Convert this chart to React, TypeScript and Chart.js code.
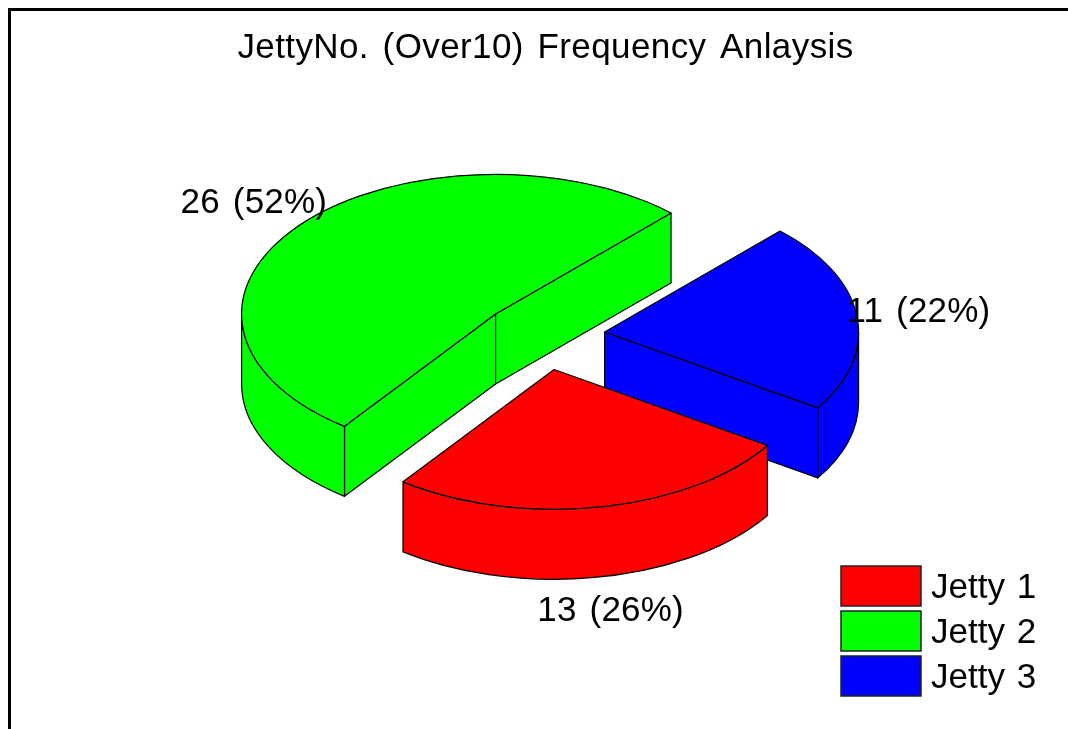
import React, { useEffect, useRef } from "react";
import { Chart, registerables } from "chart.js";

Chart.register(...registerables);

const categories = ["Jetty 1", "Jetty 2", "Jetty 3"];
const counts = [13, 26, 11];
const sliceColors = ["#ff0000", "#00ff00", "#0000ff"];
const chartTitle = "JettyNo. (Over10) Frequency Anlaysis";

const FONT = '"Liberation Sans", Arial, sans-serif';
const TILT = 0.55;
const DEPTH = 70;
const EXPLODE = 62;
const CENTER_X = 532;
const CENTER_Y = 325;
const LABEL_RADIUS = 316;

const total = counts.reduce((a, b) => a + b, 0);

const setSpacing = (ctx: any, letter: number, word: number) => {
  ctx.letterSpacing = `${letter}px`;
  ctx.wordSpacing = `${word}px`;
};

// Extruded, exploded pie: walls are built from each arc element's angles and radius,
// the top face is the element itself drawn through a squashed transform.
const pie3d = {
  id: "pie3d",
  beforeDraw(chart: any) {
    setSpacing(chart.ctx, 0.4, 3.5);
  },
  beforeDatasetDraw(chart: any) {
    const ctx: CanvasRenderingContext2D = chart.ctx;
    const arcs = chart.getDatasetMeta(0).data as any[];
    const order = arcs
      .map((arc, i) => ({ arc, i, mid: (arc.startAngle + arc.endAngle) / 2 }))
      .sort((a, b) => Math.sin(a.mid) - Math.sin(b.mid));

    ctx.save();
    ctx.strokeStyle = "#000";
    ctx.lineWidth = 1.2;
    ctx.lineJoin = "round";
    for (const { arc, i, mid } of order) {
      const r = arc.outerRadius;
      const start = arc.startAngle;
      const end = arc.endAngle;
      const ax = CENTER_X + Math.cos(mid) * EXPLODE;
      const ay = CENTER_Y + Math.sin(mid) * EXPLODE * TILT;
      const px = (t: number) => ax + Math.cos(t) * r;
      const py = (t: number) => ay + Math.sin(t) * r * TILT;
      ctx.fillStyle = sliceColors[i];

      const cutFace = (t: number) => {
        ctx.beginPath();
        ctx.moveTo(ax, ay);
        ctx.lineTo(px(t), py(t));
        ctx.lineTo(px(t), py(t) + DEPTH);
        ctx.lineTo(ax, ay + DEPTH);
        ctx.closePath();
        ctx.fill();
        ctx.stroke();
      };
      if (Math.cos(start) < 0) cutFace(start);
      if (Math.cos(end) > 0) cutFace(end);

      // The rim faces the viewer only on the lower half of the ellipse.
      for (const turn of [0, Math.PI * 2]) {
        const a0 = Math.max(start, turn);
        const a1 = Math.min(end, turn + Math.PI);
        if (a1 <= a0) continue;
        ctx.beginPath();
        ctx.ellipse(ax, ay, r, r * TILT, 0, a0, a1);
        ctx.lineTo(px(a1), py(a1) + DEPTH);
        ctx.ellipse(ax, ay + DEPTH, r, r * TILT, 0, a1, a0, true);
        ctx.closePath();
        ctx.fill();
        ctx.stroke();
      }

      // Top face
      ctx.save();
      ctx.translate(ax, ay);
      ctx.scale(1, TILT);
      ctx.translate(-arc.x, -arc.y);
      arc.draw(ctx);
      ctx.restore();
      ctx.beginPath();
      ctx.moveTo(ax, ay);
      ctx.ellipse(ax, ay, r, r * TILT, 0, start, end);
      ctx.closePath();
      ctx.stroke();
    }

    // Value labels
    setSpacing(ctx, 0.2, 3);
    ctx.fillStyle = "#000";
    ctx.font = `35px ${FONT}`;
    ctx.textAlign = "center";
    ctx.textBaseline = "middle";
    arcs.forEach((arc, i) => {
      const mid = (arc.startAngle + arc.endAngle) / 2;
      const ax = CENTER_X + Math.cos(mid) * EXPLODE;
      const ay = CENTER_Y + Math.sin(mid) * EXPLODE * TILT;
      const lx = ax + Math.cos(mid) * LABEL_RADIUS;
      const ly = ay + Math.sin(mid) * LABEL_RADIUS * TILT + (Math.sin(mid) > 0 ? DEPTH : 0) + 1;
      const pct = Math.round((counts[i] / total) * 100);
      ctx.fillText(`${counts[i]} (${pct}%)`, lx, ly);
    });
    ctx.restore();
    return false;
  },
  afterDraw(chart: any) {
    const ctx: CanvasRenderingContext2D = chart.ctx;
    const items = Chart.overrides.pie.plugins.legend.labels.generateLabels(chart);
    ctx.save();
    setSpacing(ctx, 0, 2);
    ctx.font = `35px ${FONT}`;
    ctx.textBaseline = "middle";
    ctx.lineWidth = 1.5;
    items.forEach((item: any, i: number) => {
      const top = 555 + i * 45;
      ctx.fillStyle = item.fillStyle;
      ctx.strokeStyle = "#222";
      ctx.fillRect(830, top, 80, 40);
      ctx.strokeRect(830, top, 80, 40);
      ctx.fillStyle = "#000";
      ctx.fillText(item.text, 920, top + 22);
    });
    ctx.restore();
  },
};

export default function App() {
  const ref = useRef<HTMLCanvasElement>(null);
  useEffect(() => {
    const chart = new Chart(ref.current!, {
      type: "pie",
      data: {
        labels: categories,
        datasets: [
          {
            data: counts,
            backgroundColor: sliceColors,
            borderColor: "#000",
            borderWidth: 0,
          },
        ],
      },
      options: {
        responsive: false,
        animation: false,
        rotation: 122.9,
        radius: 254,
        layout: { padding: { left: 12 } },
        plugins: {
          legend: { display: false },
          tooltip: { enabled: false },
          title: {
            display: true,
            text: chartTitle,
            color: "#000",
            fullSize: false,
            font: { family: FONT, size: 35, weight: "normal" },
            padding: { top: 16, bottom: 20 },
          },
        },
      },
      plugins: [pie3d],
    } as any);
    return () => chart.destroy();
  }, []);
  return (
    <div
      style={{
        position: "fixed",
        left: 8,
        top: 8,
        width: 1060,
        height: 721,
        boxSizing: "border-box",
        borderLeft: "3px solid #000",
        borderTop: "3px solid #000",
        background: "#fff",
        overflow: "hidden",
      }}
    >
      <canvas ref={ref} width={1057} height={718} style={{ display: "block" }} />
    </div>
  );
}
